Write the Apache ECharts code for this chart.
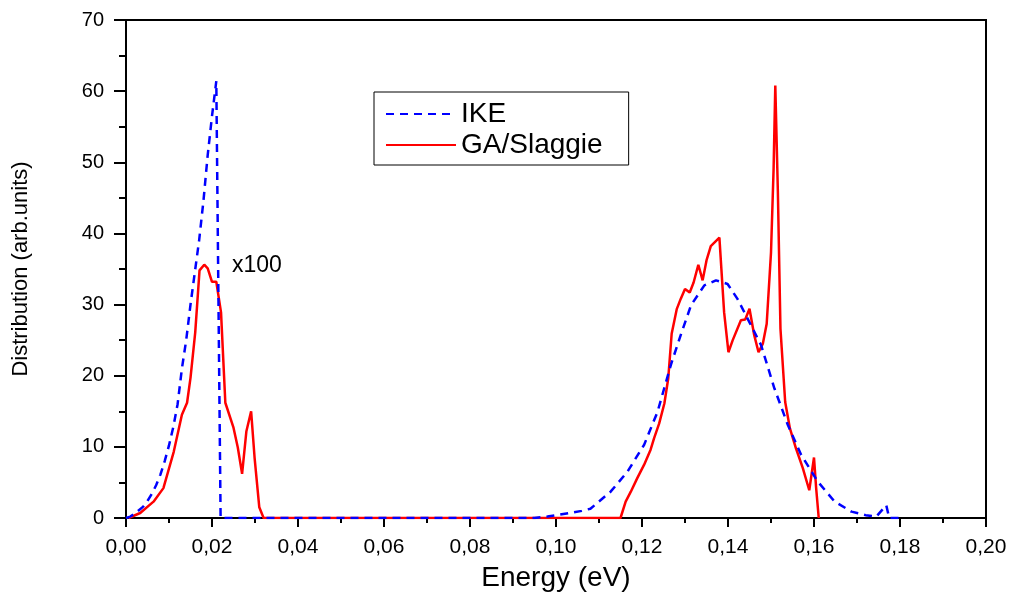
<!DOCTYPE html>
<html>
<head>
<meta charset="utf-8">
<script src="https://cdn.jsdelivr.net/npm/echarts@6/dist/echarts.min.js"></script>
<style>
  html, body { margin: 0; padding: 0; background: #fff; }
  #chart { width: 1011px; height: 597px; }
</style>
</head>
<body>
<div id="chart"></div>
<script>
// IKE curve (blue dashed)
var ikeX = [0, 0.001, 0.002, 0.003, 0.004, 0.005, 0.006, 0.007, 0.008, 0.009, 0.010, 0.011, 0.012, 0.013, 0.014, 0.015, 0.016, 0.017, 0.018, 0.019, 0.020, 0.021, 0.022,
  0.030, 0.040, 0.050, 0.060, 0.070, 0.080, 0.090, 0.095, 0.098, 0.100, 0.103, 0.106, 0.108, 0.1127, 0.1166, 0.1205, 0.1236, 0.1267, 0.1290, 0.1314, 0.1345,
  0.1372, 0.1399, 0.1422, 0.1450, 0.1477, 0.1508, 0.1539, 0.1570, 0.1609, 0.1648, 0.1687, 0.1720, 0.1745, 0.1768, 0.1775, 0.178, 0.180];
var ikeY = [0, 0.2, 0.6, 1.1, 1.6, 2.4, 3.4, 4.6, 6.1, 8.0, 10.2, 12.8, 16.0, 21.0, 25.0, 30.0, 34.5, 39.0, 44.5, 51.0, 56.5, 61.4, 0,
  0, 0, 0, 0, 0, 0, 0, 0, 0.2, 0.4, 0.7, 1.0, 1.3, 3.7, 6.5, 10.3, 14.9, 21.5, 25.7, 29.9, 32.7,
  33.4, 32.9, 30.8, 27.5, 24.3, 18.2, 13.1, 8.9, 5.1, 2.3, 0.9, 0.4, 0.2, 1.8, 0, 0, 0];

// GA/Slaggie curve (red solid)
var gaX = [0.0006, 0.0033, 0.0064, 0.0087, 0.0111, 0.0130, 0.0142, 0.0150, 0.0161, 0.0171, 0.0182, 0.0190, 0.0200, 0.0210, 0.0221, 0.0231, 0.0250, 0.0260,
  0.0270, 0.0280, 0.0291, 0.0299, 0.0310, 0.0320, 0.1150, 0.1162, 0.1174, 0.1189, 0.1205, 0.1220, 0.1228, 0.1240, 0.1252, 0.1261, 0.1269, 0.1281, 0.1290,
  0.1300, 0.1311, 0.1320, 0.1331, 0.1341, 0.1350, 0.1360, 0.1380, 0.1391, 0.1401, 0.1411, 0.1430, 0.1440, 0.1450, 0.1461, 0.1471, 0.1481, 0.1490,
  0.1500, 0.1506, 0.1510, 0.1516, 0.1522, 0.1533, 0.1544, 0.1558, 0.1574, 0.1589, 0.1600, 0.1605, 0.1611];
var gaY = [0, 0.7, 2.3, 4.2, 9.3, 14.5, 16.2, 19.7, 26.1, 34.8, 35.6, 35.1, 33.2, 33.2, 28.9, 16.2, 12.7, 9.9,
  6.2, 12.2, 15.0, 8.5, 1.5, 0, 0, 2.3, 3.7, 5.6, 7.5, 9.6, 11.2, 13.3, 16.1, 19.6, 25.9, 29.4, 30.8,
  32.2, 31.7, 33.1, 35.6, 33.4, 36.2, 38.2, 39.4, 28.9, 23.3, 25.0, 27.8, 27.9, 29.4, 25.7, 23.3, 24.5, 27.3,
  37.3, 49.0, 60.8, 45.8, 26.6, 16.3, 12.6, 9.8, 7.0, 3.9, 8.5, 4.2, 0];

function pairs(xs, ys) {
  return xs.map(function (x, i) { return [x, ys[i]]; });
}

var chart = echarts.init(document.getElementById('chart'));
var option = {
  backgroundColor: '#fff',
  animation: false,
  grid: {
    left: 126, right: 25, top: 20, bottom: 77,
    show: true, borderColor: '#000', borderWidth: 2
  },
  legend: {
    orient: 'vertical',
    left: 374, top: 92,
    padding: [8, 26, 6, 11],
    itemGap: 3,
    itemWidth: 70, itemHeight: 14,
    borderColor: '#000', borderWidth: 1,
    backgroundColor: '#fff',
    itemStyle: { opacity: 0 },
    textStyle: { fontFamily: 'Liberation Sans', fontSize: 28, color: '#000', lineHeight: 26 },
    data: ['IKE', 'GA/Slaggie']
  },
  xAxis: {
    type: 'value', min: 0, max: 0.2, interval: 0.02,
    name: 'Energy (eV)', nameLocation: 'middle', nameGap: 46,
    nameTextStyle: { fontFamily: 'Liberation Sans', fontSize: 28, color: '#000' },
    axisLine: { lineStyle: { color: '#000', width: 2 } },
    axisTick: { inside: false, length: 9, lineStyle: { color: '#000', width: 2 } },
    minorTick: { show: true, splitNumber: 2, length: 5, lineStyle: { color: '#000', width: 2 } },
    axisLabel: {
      margin: 19, fontFamily: 'Liberation Sans', fontSize: 21, color: '#000',
      formatter: function (v) { return v.toFixed(2).replace('.', ','); }
    },
    splitLine: { show: false }
  },
  yAxis: {
    type: 'value', min: 0, max: 70, interval: 10,
    name: 'Distribution (arb.units)', nameLocation: 'middle', nameGap: 94,
    nameTextStyle: { fontFamily: 'Liberation Sans', fontSize: 22, color: '#000' },
    axisLine: { lineStyle: { color: '#000', width: 2 } },
    axisTick: { inside: false, length: 12, lineStyle: { color: '#000', width: 2 } },
    minorTick: { show: true, splitNumber: 2, length: 7, lineStyle: { color: '#000', width: 2 } },
    axisLabel: { margin: 22, fontFamily: 'Liberation Sans', fontSize: 20, color: '#000' },
    splitLine: { show: false }
  },
  graphic: [{
    type: 'text', left: 232, top: 254,
    style: { text: 'x100', fontFamily: 'Liberation Sans', fontSize: 23, fill: '#000' }
  }],
  series: [
    {
      name: 'IKE', type: 'line', symbol: 'none',
      data: pairs(ikeX, ikeY),
      lineStyle: { color: '#0000ff', width: 2.5, type: [8, 6] },
      itemStyle: { color: '#0000ff' },
      z: 3
    },
    {
      name: 'GA/Slaggie', type: 'line', symbol: 'none',
      data: pairs(gaX, gaY),
      lineStyle: { color: '#ff0000', width: 2.5 },
      itemStyle: { color: '#ff0000' },
      z: 2
    }
  ]
};
chart.setOption(option);
</script>
</body>
</html>
